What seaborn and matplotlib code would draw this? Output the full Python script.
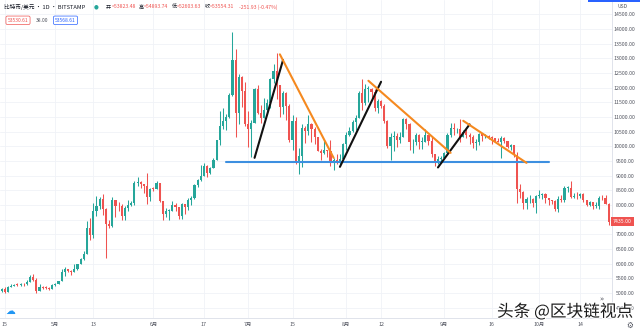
import matplotlib
matplotlib.use("Agg")
import matplotlib.pyplot as plt
import matplotlib.patheffects as pe
from matplotlib.patches import Rectangle
import numpy as np
import pandas as pd
import seaborn as sns

# ---- daily BTC/USD candles (Bitstamp), one per day from start_date ----
start_date = "2019-04-14"

opens = [
    5070, 5150, 5030, 5200, 5230, 5280, 5270, 5320, 5290, 5380,
    5540, 5440, 5060, 5200, 5180, 5170, 5140, 5270, 5320, 5400,
    5730, 5810, 5760, 5710, 5830, 5980, 6160, 6340, 7200, 6970,
    7810, 7980, 8200, 7870, 7360, 7270, 8180, 7970, 7950, 7630,
    7880, 7990, 8050, 8740, 8790, 8730, 8660, 8270, 8560, 8550,
    8740, 8120, 7680, 7790, 7800, 8000, 7930, 7630, 8020, 7920,
    8170, 8230, 8690, 8850, 8970, 9330, 9080, 9270, 9530, 10200,
    10700, 10860, 11000, 11760, 12950, 11130, 12370, 11880, 10760, 10580,
    10800, 11960, 11150, 10980, 11250, 11470, 12290, 12570, 12100, 11350,
    11810, 11380, 10200, 10850, 9430, 9680, 10630, 10530, 10760, 10590,
    10320, 9850, 9780, 9880, 9850, 9480, 9530, 9500, 9580, 10080,
    10400, 10530, 10820, 10980, 11800, 11460, 11960, 11970, 11860, 11290,
    11560, 11390, 10860, 10020, 10300, 10360, 10220, 10320, 10920, 10760,
    10130, 10130, 10400, 10140, 10140, 10370, 10180, 9720, 9480, 9580,
    9600, 9770, 10380, 10620, 10580, 10580, 10320, 10490, 10400, 10310,
    10100, 10160, 10410, 10360, 10360, 10310, 10270, 10190, 10160, 10270,
    10170, 9980, 10030, 9690, 8530, 8430, 8060, 8190, 8200, 8050,
    8300, 8330, 8390, 8230, 8160, 8150, 7870, 8210, 8180, 8590,
    8590, 8270, 8320, 8290, 8360, 8160, 8000, 8090, 7960, 7960,
    8230, 8220, 8030,
]
highs = [
    5180, 5190, 5220, 5290, 5320, 5350, 5350, 5340, 5440, 5620,
    5640, 5520, 5300, 5230, 5220, 5190, 5300, 5350, 5420, 5820,
    5880, 5830, 5780, 5990, 6000, 6190, 6440, 7450, 7550, 8050,
    8300, 8280, 8380, 7900, 7480, 8270, 8180, 8090, 8020, 7950,
    8160, 8120, 8800, 8940, 8800, 8730, 9080, 8590, 8620, 8820,
    8740, 8120, 7900, 7870, 8130, 8060, 7940, 8060, 8020, 8220,
    8300, 8700, 8870, 9350, 9430, 9350, 9300, 9600, 10230, 11200,
    11300, 11100, 11800, 13880, 13320, 12450, 12400, 12200, 11200, 10900,
    12000, 12100, 11400, 11650, 11600, 12340, 12800, 13180, 12100, 11900,
    11840, 11450, 11050, 11000, 9950, 10750, 10700, 11050, 10800, 10650,
    10330, 9920, 10170, 9890, 10200, 9600, 9720, 9750, 10120, 10480,
    10660, 10900, 11080, 11900, 12300, 12130, 12050, 12000, 11950, 11600,
    11580, 11450, 10890, 10450, 10520, 10470, 10480, 10950, 10950, 10800,
    10250, 10440, 10420, 10320, 10600, 10390, 10300, 9730, 9680, 9680,
    9820, 10440, 10780, 10800, 10630, 10920, 10550, 10600, 10470, 10380,
    10250, 10450, 10440, 10420, 10380, 10350, 10280, 10270, 10350, 10300,
    10180, 10080, 10030, 9800, 8730, 8460, 8270, 8330, 8220, 8330,
    8500, 8400, 8400, 8240, 8180, 8160, 8300, 8350, 8650, 8650,
    8800, 8420, 8450, 8400, 8400, 8170, 8120, 8100, 8090, 8300,
    8330, 8340, 8050,
]
lows = [
    5040, 4990, 5020, 5190, 5220, 5220, 5250, 5230, 5260, 5370,
    5400, 4990, 5050, 5140, 5140, 5100, 5130, 5250, 5300, 5390,
    5580, 5700, 5610, 5700, 5780, 5980, 6120, 6340, 6790, 6880,
    7620, 7850, 7650, 6180, 7220, 7260, 7580, 7790, 7500, 7500,
    7800, 7950, 8000, 8650, 8580, 8420, 8040, 8120, 8480, 8540,
    8090, 7480, 7580, 7470, 7790, 7800, 7520, 7530, 7700, 7840,
    8000, 8190, 8620, 8800, 8970, 8950, 9050, 9250, 9530, 10050,
    10600, 10550, 10980, 11700, 10300, 10750, 11330, 10700, 9980, 9650,
    10780, 11100, 10800, 10960, 11100, 11320, 12150, 11600, 11000, 11100,
    10900, 10150, 9880, 9400, 9070, 9300, 10120, 10400, 10150, 10080,
    9830, 9520, 9740, 9650, 9320, 9200, 9390, 9380, 9560, 9880,
    10340, 10500, 10570, 10980, 11250, 11400, 11500, 11650, 11200, 11150,
    11300, 10800, 9950, 9520, 9850, 9980, 10100, 10320, 10600, 9880,
    9770, 10060, 9900, 9920, 10140, 10050, 9620, 9320, 9380, 9440,
    9560, 9740, 10300, 10400, 10450, 10160, 10310, 10270, 10080, 9930,
    9860, 10050, 10170, 10270, 10250, 10070, 10140, 10130, 9600, 10100,
    9950, 9880, 9630, 8050, 8220, 7850, 7870, 8050, 7920, 7720,
    8220, 8200, 8080, 8010, 8020, 7780, 7760, 8110, 8100, 8450,
    8250, 8250, 8200, 8240, 8100, 7950, 7980, 7850, 7900, 7870,
    8180, 8020, 7300,
]
closes = [
    5150, 5030, 5200, 5230, 5280, 5270, 5320, 5290, 5380, 5540,
    5440, 5060, 5200, 5180, 5170, 5140, 5270, 5320, 5400, 5730,
    5810, 5760, 5710, 5830, 5980, 6160, 6340, 7200, 6970, 7810,
    7980, 8200, 7870, 7360, 7270, 8180, 7970, 7950, 7630, 7880,
    7990, 8050, 8740, 8790, 8730, 8660, 8270, 8560, 8550, 8740,
    8120, 7680, 7790, 7800, 8000, 7930, 7630, 8020, 7920, 8170,
    8230, 8690, 8850, 8970, 9330, 9080, 9270, 9530, 10200, 10700,
    10860, 11000, 11760, 12950, 11130, 12370, 11880, 10760, 10580, 10800,
    11960, 11150, 10980, 11250, 11470, 12290, 12570, 12100, 11350, 11810,
    11380, 10200, 10850, 9430, 9680, 10630, 10530, 10760, 10590, 10320,
    9850, 9780, 9880, 9850, 9480, 9530, 9500, 9580, 10080, 10400,
    10530, 10820, 10980, 11800, 11460, 11960, 11970, 11860, 11290, 11560,
    11390, 10860, 10020, 10300, 10360, 10220, 10320, 10920, 10760, 10130,
    10130, 10400, 10140, 10140, 10370, 10180, 9720, 9480, 9580, 9600,
    9770, 10380, 10620, 10580, 10580, 10320, 10490, 10400, 10310, 10100,
    10160, 10410, 10360, 10360, 10310, 10270, 10190, 10160, 10270, 10170,
    9980, 10030, 9690, 8530, 8430, 8060, 8190, 8200, 8050, 8300,
    8330, 8390, 8230, 8160, 8150, 7870, 8210, 8180, 8590, 8590,
    8270, 8320, 8290, 8360, 8160, 8000, 8090, 7960, 7960, 8230,
    8220, 8030, 7435,
]

# ---- axis ticks ----
price_ticks = list(range(4500, 15000, 500))
date_ticks = ["2019-04-15", "2019-05-01", "2019-05-13", "2019-06-01", "2019-06-17",
              "2019-07-01", "2019-07-15", "2019-08-01", "2019-08-12", "2019-09-01",
              "2019-09-16", "2019-10-01", "2019-10-14"]
date_tick_labels = ["15", "5月", "13", "6月", "17", "7月", "15", "8月", "12",
                    "9月", "16", "10月", "14"]

# ---- hand-drawn analysis lines: (date, price) end points ----
support_line = [("2019-06-24", 9450), ("2019-10-04", 9450)]
rise_lines = [
    [("2019-07-03", 9606), ("2019-07-12", 12940)],
    [("2019-07-30", 9299), ("2019-08-12", 12200)],
    [("2019-08-30", 9278), ("2019-09-09", 10746)],
]
fall_lines = [
    [("2019-07-11", 13135), ("2019-07-28", 9606)],
    [("2019-08-08", 12234), ("2019-09-03", 9776)],
    [("2019-09-07", 10869), ("2019-09-27", 9435)],
]

header_title = "比特币/美元 · 1D · BITSTAMP"
header_ohlc = [("开", "53823.48"), ("高", "54893.74"), ("低", "52603.63"), ("收", "53554.31")]
header_change = "-251.93 (-0.47%)"
last_price = 7435.00

UP, DOWN = "#26a69a", "#ef5350"
GRID = "#f0f2f7"
TEXT = "#50535e"

sns.set_theme(style="white")
plt.rcParams["font.family"] = ["Noto Sans CJK SC", "DejaVu Sans"]
plt.rcParams["axes.unicode_minus"] = False

W, H = 640, 332
fig = plt.figure(figsize=(W / 100, H / 100), dpi=100)
fig.patch.set_facecolor("white")
ax = fig.add_axes([0, (H - 318) / H, 612 / W, 318 / H])
ax.set_facecolor("white")

t0 = pd.Timestamp(start_date)


def day_index(d):
    return (pd.Timestamp(d) - t0).days


df = pd.DataFrame({"open": opens, "high": highs, "low": lows, "close": closes})
df["i"] = np.arange(len(df))
colors = np.where(df["close"] >= df["open"], UP, DOWN)

# wicks and bodies
ax.vlines(df["i"], df["low"], df["high"], colors=colors, lw=0.75, zorder=2)
body = (df["close"] - df["open"]).abs().clip(lower=25)
ax.bar(df["i"], body, bottom=np.minimum(df["open"], df["close"]), width=0.68,
       color=colors, linewidth=0, zorder=3)


def draw_segment(seg, color):
    seg_df = pd.DataFrame({"x": [day_index(d) for d, _ in seg], "y": [p for _, p in seg]})
    sns.lineplot(data=seg_df, x="x", y="y", color=color, lw=1.5, ax=ax,
                 estimator=None, sort=False, zorder=5)


draw_segment(support_line, "#3d8fe0")
for seg in rise_lines:
    draw_segment(seg, "#111111")
for seg in fall_lines:
    draw_segment(seg, "#f5891f")

ax.set_xlim(-0.51, 193.04)
ax.set_ylim(4145, 14988)
ax.set_xlabel("")
ax.set_ylabel("")

# grid
for p in price_ticks:
    ax.axhline(p, color=GRID, lw=0.6, zorder=0)
tick_pos = [day_index(d) for d in date_ticks]
for x in tick_pos:
    ax.axvline(x, color=GRID, lw=0.6, zorder=0)

# axes frame
for s in ["top", "left"]:
    ax.spines[s].set_visible(False)
for s in ["right", "bottom"]:
    ax.spines[s].set_color("#e0e3eb")
    ax.spines[s].set_linewidth(0.7)

# price scale: the level hidden under the last-price tag is left blank
tag_level = round(last_price / 500) * 500
ax.yaxis.tick_right()
ax.set_yticks(price_ticks)
ax.set_yticklabels(["" if v == tag_level else f"{v:.2f}" for v in price_ticks])
ax.tick_params(axis="y", length=0, pad=16.5, labelsize=3.8, labelcolor=TEXT)
for lbl in ax.get_yticklabels():
    lbl.set_horizontalalignment("right")

ax.set_xticks(tick_pos)
ax.set_xticklabels(date_tick_labels)
ax.tick_params(axis="x", length=0, pad=3.0, labelsize=3.8, labelcolor=TEXT)


def fx(x):
    return x / W


def fy(y):
    return 1 - y / H


renderer = fig.canvas.get_renderer()


def text_width(t):
    return t.get_window_extent(renderer).width


# header legend
fig.text(fx(4), fy(7), header_title, fontsize=4.1, color="#131722", va="center", ha="left")
fig.text(fx(95.7), fy(7), "●", fontsize=4, color=UP, va="center", ha="center",
         family=["DejaVu Sans"])
cursor = 106.0
for lab, val in header_ohlc:
    t = fig.text(fx(cursor), fy(7), lab, fontsize=3.7, color="#131722", va="center", ha="left")
    cursor += text_width(t) + 0.3
    t = fig.text(fx(cursor), fy(7), "=" + val, fontsize=3.7, color=DOWN, va="center", ha="left")
    cursor += text_width(t) + 3.0
fig.text(fx(cursor + 2), fy(7), header_change, fontsize=3.7, color=DOWN, va="center", ha="left")

fig.text(fx(18), fy(20.3), "53530.61", fontsize=3.6, color=DOWN, va="center", ha="center",
         bbox=dict(boxstyle="round,pad=0.35,rounding_size=0.3", fc="white", ec=DOWN, lw=0.5))
fig.text(fx(42), fy(20.3), "38.00", fontsize=3.6, color=TEXT, va="center", ha="center")
fig.text(fx(65.5), fy(20.3), "53568.61", fontsize=3.6, color="#2962ff", va="center", ha="center",
         bbox=dict(boxstyle="round,pad=0.35,rounding_size=0.3", fc="white", ec="#2962ff", lw=0.5))

# price scale extras
fig.text(fx(623), fy(6.7), "USD", fontsize=3.6, color=TEXT, va="center", ha="center")
fig.add_artist(Rectangle((fx(588), fy(1.5)), 52 / W, 1.5 / H, transform=fig.transFigure,
                         color="#2962ff", lw=0))
tag_y = 14.3 + (14500 - last_price) * 0.02933
fig.text(fx(622.5), fy(tag_y), f"{last_price:.2f}", fontsize=3.8, color="white",
         va="center", ha="center",
         bbox=dict(boxstyle="square,pad=0.3", fc=DOWN, ec="none"))

# small interface glyphs
fig.text(fx(10), fy(311), "☁", fontsize=7, color="#2196f3", va="center", ha="center",
         family=["DejaVu Sans"])
fig.text(fx(601), fy(299), "»", fontsize=5, color=TEXT, va="center", ha="center",
         family=["DejaVu Sans"])
fig.text(fx(630), fy(325), "⚙", fontsize=5.5, color=TEXT, va="center", ha="center",
         family=["DejaVu Sans"])

# watermark
fig.text(fx(497), fy(312), "头条 @区块链视点", fontsize=12, color="#1c1c1c",
         va="center", ha="left",
         path_effects=[pe.withStroke(linewidth=1.6, foreground="white")])

fig.savefig("out.png", dpi=100, facecolor="white")
